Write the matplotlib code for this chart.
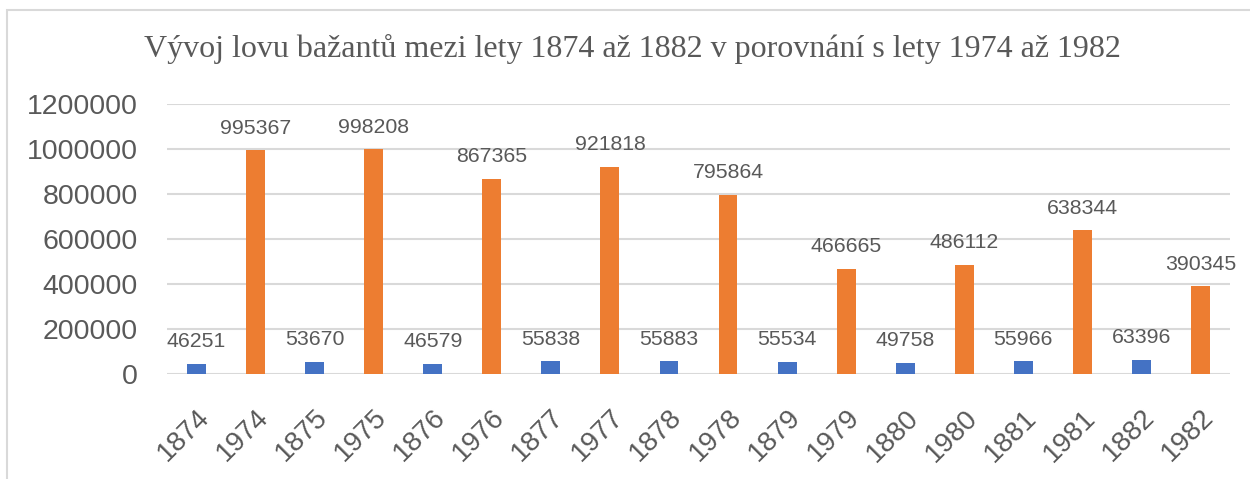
import numpy as np
import matplotlib
matplotlib.use("Agg")
import matplotlib.pyplot as plt
from matplotlib.patches import Rectangle
from matplotlib.ticker import FuncFormatter

# data
categories = ["1874", "1974", "1875", "1975", "1876", "1976", "1877", "1977", "1878",
              "1978", "1879", "1979", "1880", "1980", "1881", "1981", "1882", "1982"]
hunt_1800s = [46251, 53670, 46579, 55838, 55883, 55534, 49758, 55966, 63396]
hunt_1900s = [995367, 998208, 867365, 921818, 795864, 466665, 486112, 638344, 390345]

title = "Vývoj lovu bažantů mezi lety 1874 až 1882 v porovnání s lety 1974 až 1982"

BLUE = "#4472C4"
ORANGE = "#ED7D31"
TEXT = "#595959"
GRID = "#D9D9D9"

plt.rcParams['font.family'] = ['Liberation Sans', 'DejaVu Sans']

fig = plt.figure(figsize=(12.5, 4.79), dpi=100)
ax = fig.add_axes([0.1336, 0.2192, 0.984 - 0.1336, 0.7829 - 0.2192])

x = np.arange(len(categories))
bars_old = ax.bar(x[0::2], hunt_1800s, width=0.32, color=BLUE)
bars_new = ax.bar(x[1::2], hunt_1900s, width=0.32, color=ORANGE)

ax.bar_label(bars_old, padding=9, fontsize=15.3, color=TEXT)
ax.bar_label(bars_new, padding=9, fontsize=15.3, color=TEXT)

ax.set_xlim(-0.5, len(categories) - 0.5)
ax.set_ylim(0, 1200000)
ax.set_yticks(np.arange(0, 1200001, 200000))
ax.yaxis.set_major_formatter(FuncFormatter(lambda v, p: f"{int(v)}"))
ax.yaxis.grid(True, color=GRID, linewidth=1.5)
ax.set_axisbelow(True)
ax.tick_params(axis='y', length=0, pad=21, labelsize=20.5, labelcolor=TEXT)

ax.set_xticks(x)
ax.set_xticklabels(categories, rotation=45, ha='right', va='top',
                   rotation_mode='anchor', fontsize=20, color=TEXT)
ax.tick_params(axis='x', length=0, pad=22)

for s in ax.spines.values():
    s.set_visible(False)

fig.text(0.5056, 1 - 49 / 479, title, ha='center', va='center',
         fontsize=23, color=TEXT, family=['Liberation Serif', 'DejaVu Serif'])

# chart frame (cut off on the right and bottom)
fig.patches.append(Rectangle((7 / 1250, -0.1), 1.2, 1.1 - 10 / 479,
                             transform=fig.transFigure, fill=False,
                             edgecolor=GRID, linewidth=1.5))

fig.savefig("out.png", dpi=100)
